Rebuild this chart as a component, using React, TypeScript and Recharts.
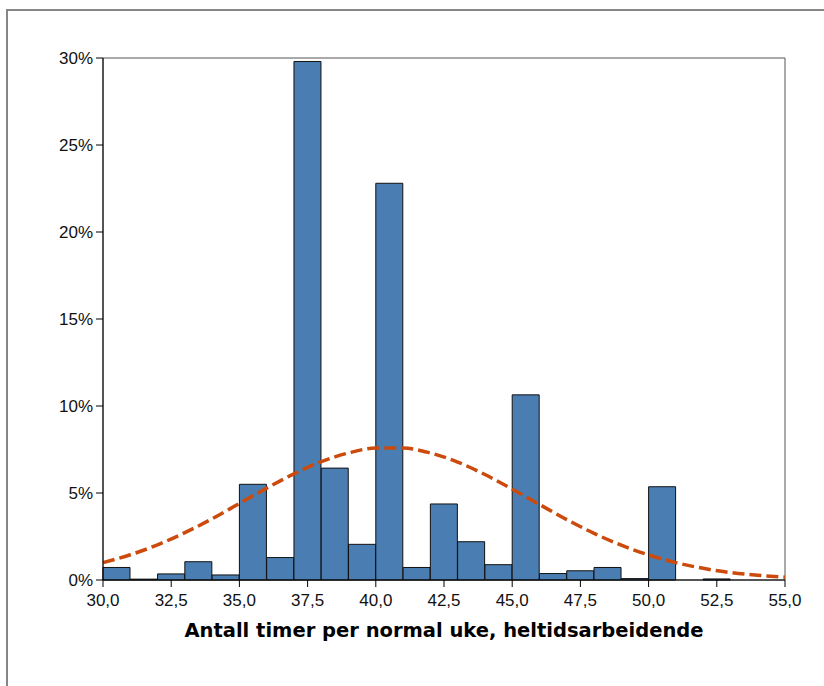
import React from 'react';
import {
  ComposedChart,
  Bar,
  Line,
  XAxis,
  YAxis,
  ReferenceArea,
} from 'recharts';

// histogram bins: 1 hour wide, starting at these hours
const binStarts = [30, 31, 32, 33, 34, 35, 36, 37, 38, 39, 40, 41, 42, 43, 44, 45, 46, 47, 48, 49, 50, 51, 52, 53, 54];
const binPercent = [0.72, 0.05, 0.35, 1.05, 0.29, 5.5, 1.29, 29.8, 6.43, 2.05, 22.8, 0.72, 4.37, 2.2, 0.88, 10.64, 0.37, 0.53, 0.72, 0.08, 5.36, 0, 0.06, 0, 0];

// fitted normal curve at whole hours
const curveHours = [30, 31, 32, 33, 34, 35, 36, 37, 38, 39, 40, 41, 42, 43, 44, 45, 46, 47, 48, 49, 50, 51, 52, 53, 54, 55];
const curvePercent = [1.0, 1.45, 2.02, 2.72, 3.52, 4.4, 5.28, 6.1, 6.8, 7.3, 7.58, 7.58, 7.3, 6.78, 6.06, 5.22, 4.34, 3.47, 2.68, 2.0, 1.44, 1.0, 0.67, 0.43, 0.27, 0.16];

const xTicks = [30, 32.5, 35, 37.5, 40, 42.5, 45, 47.5, 50, 52.5, 55];
const yTicks = [0, 5, 10, 15, 20, 25, 30];

const xTitle = 'Antall timer per normal uke, heltidsarbeidende';

const bins = binStarts.map((start, i) => ({ bin: String(start), pct: binPercent[i] }));
const curve = curveHours.map((h, i) => ({ hours: h, pct: curvePercent[i] }));

const fmtHours = (v: number) => v.toFixed(1).replace('.', ',');
const fmtPct = (v: number) => `${v}%`;

const font = '"Liberation Sans", Arial, sans-serif';
const titleFont = '"DejaVu Sans", Verdana, sans-serif';

export default function App() {
  return (
    <div
      style={{
        position: 'fixed',
        left: 0,
        top: 0,
        width: 824,
        height: 686,
        overflow: 'hidden',
        background: '#fff',
        fontFamily: font,
      }}
    >
      <ComposedChart
        width={824}
        height={686}
        data={bins}
        barCategoryGap={0}
        barGap={0}
        margin={{ top: 58, right: 39, bottom: 46, left: 0 }}
        style={{ position: 'absolute', left: 0, top: 0 }}
      >
        <XAxis xAxisId="bins" dataKey="bin" type="category" hide height={0} />
        <XAxis
          xAxisId="hours"
          dataKey="hours"
          type="number"
          domain={[30, 55]}
          ticks={xTicks}
          tickFormatter={fmtHours}
          interval={0}
          height={60}
          stroke="#000"
          tickSize={7}
          tickMargin={7}
          tick={{ fill: '#111', fontSize: 17, fontFamily: font }}
          label={{
            value: xTitle,
            position: 'insideBottom',
            offset: 3,
            fill: '#000',
            fontSize: 19.5,
            fontWeight: 'bold',
            fontFamily: titleFont,
          }}
        />
        <YAxis
          type="number"
          domain={[0, 30]}
          ticks={yTicks}
          tickFormatter={fmtPct}
          width={103}
          stroke="#000"
          tickSize={7}
          tickMargin={3}
          tick={{ fill: '#111', fontSize: 17, fontFamily: font }}
        />
        <ReferenceArea
          xAxisId="hours"
          x1={30}
          x2={55}
          y1={0}
          y2={30}
          fill="none"
          stroke="#555"
          strokeWidth={1}
        />
        <Bar
          xAxisId="bins"
          dataKey="pct"
          fill="#4a7eb2"
          stroke="#111"
          strokeWidth={1}
          isAnimationActive={false}
        />
        <Line
          xAxisId="hours"
          data={curve}
          dataKey="pct"
          type="monotone"
          stroke="#cc4a0c"
          strokeWidth={3.5}
          strokeDasharray="12 5"
          dot={false}
          activeDot={false}
          isAnimationActive={false}
        />
      </ComposedChart>
      <div
        style={{
          position: 'absolute',
          left: 6,
          top: 9,
          width: 900,
          height: 900,
          borderTop: '2px solid #868686',
          borderLeft: '2px solid #868686',
          pointerEvents: 'none',
        }}
      />
    </div>
  );
}
